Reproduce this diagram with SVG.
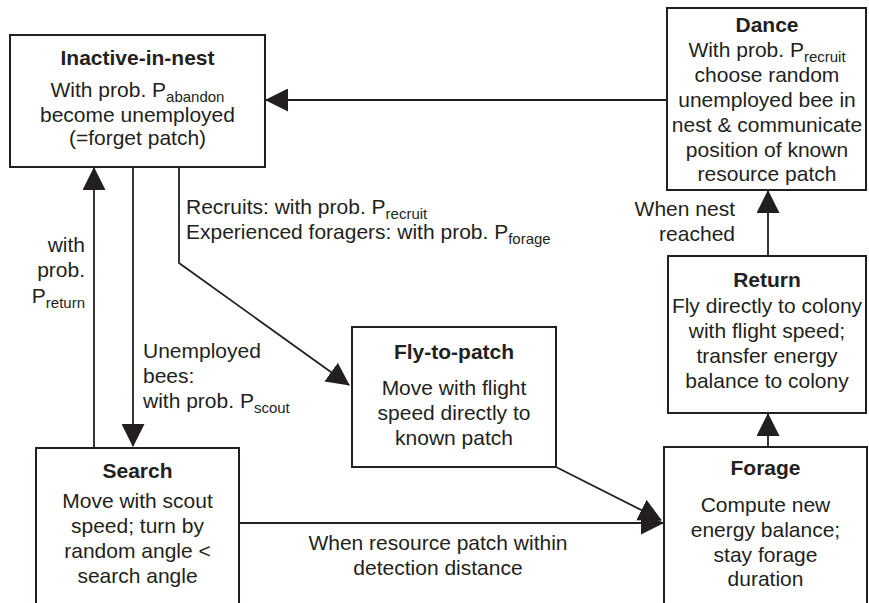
<svg xmlns="http://www.w3.org/2000/svg" width="869" height="603" viewBox="0 0 869 603">
<style>
  .box { fill: #ffffff; stroke: #231f20; stroke-width: 2; }
  .t { font-family: "Liberation Sans", Arial, sans-serif; font-size: 21px; fill: #231f20; }
  .b { font-weight: bold; }
  .c { text-anchor: middle; }
  .r { text-anchor: end; }
  .sub { font-size: 15px; }
  .ln { fill: none; stroke: #231f20; stroke-width: 1.8; }
</style>
<defs>
  <marker id="ah" viewBox="0 0 23 23" markerWidth="23" markerHeight="23" refX="22" refY="11.5" orient="auto" markerUnits="userSpaceOnUse">
    <path d="M0,0 L23,11.5 L0,23 Z" fill="#231f20"/>
  </marker>
</defs>
<rect width="869" height="603" fill="#ffffff"/>

<g id="connectors">
  <line class="ln" x1="667" y1="100" x2="266" y2="100" marker-end="url(#ah)"/>
  <line class="ln" x1="94" y1="448" x2="94" y2="168" marker-end="url(#ah)"/>
  <line class="ln" x1="133" y1="167" x2="133" y2="446" marker-end="url(#ah)"/>
  <polyline class="ln" points="179,167 179,263 349,385" marker-end="url(#ah)"/>
  <line class="ln" x1="556" y1="467" x2="661" y2="520" marker-end="url(#ah)"/>
  <line class="ln" x1="239" y1="523" x2="663" y2="523" marker-end="url(#ah)"/>
  <line class="ln" x1="768" y1="447" x2="768" y2="414" marker-end="url(#ah)"/>
  <line class="ln" x1="768" y1="256" x2="768" y2="191" marker-end="url(#ah)"/>
</g>

<g id="labels">
  <text class="t r" x="85" y="252">with</text>
  <text class="t r" x="85" y="277">prob.</text>
  <text class="t r" x="85" y="303">P<tspan class="sub" dy="5">return</tspan></text>
  <text class="t" x="143" y="358">Unemployed</text>
  <text class="t" x="143" y="383">bees:</text>
  <text class="t" x="143" y="408">with prob. P<tspan class="sub" dy="5">scout</tspan></text>
  <text class="t" x="186" y="214">Recruits: with prob. P<tspan class="sub" dy="5">recruit</tspan></text>
  <text class="t" x="186" y="239">Experienced foragers: with prob. P<tspan class="sub" dy="5">forage</tspan></text>
  <text class="t r" x="735" y="216">When nest</text>
  <text class="t r" x="735" y="241">reached</text>
  <text class="t c" x="438" y="550">When resource patch within</text>
  <text class="t c" x="438" y="575">detection distance</text>
</g>

<g id="inactive">
  <rect class="box" x="10" y="35" width="255" height="132"/>
  <text class="t b c" x="137.5" y="65">Inactive-in-nest</text>
  <text class="t c" x="137.5" y="97">With prob. P<tspan class="sub" dy="5">abandon</tspan></text>
  <text class="t c" x="137.5" y="122">become unemployed</text>
  <text class="t c" x="137.5" y="145">(=forget patch)</text>
</g>

<g id="dance">
  <rect class="box" x="667" y="8" width="199" height="182"/>
  <text class="t b c" x="767" y="32">Dance</text>
  <text class="t c" x="767" y="57">With prob. P<tspan class="sub" dy="5">recruit</tspan></text>
  <text class="t c" x="767" y="82">choose random</text>
  <text class="t c" x="767" y="107">unemployed bee in</text>
  <text class="t c" x="767" y="132">nest &amp; communicate</text>
  <text class="t c" x="767" y="157">position of known</text>
  <text class="t c" x="767" y="181">resource patch</text>
</g>

<g id="return">
  <rect class="box" x="668" y="256" width="198" height="157"/>
  <text class="t b c" x="767" y="287">Return</text>
  <text class="t c" x="767" y="313">Fly directly to colony</text>
  <text class="t c" x="767" y="338">with flight speed;</text>
  <text class="t c" x="767" y="363">transfer energy</text>
  <text class="t c" x="767" y="388">balance to colony</text>
</g>

<g id="fly-to-patch">
  <rect class="box" x="352" y="327" width="204" height="140"/>
  <text class="t b c" x="454" y="359">Fly-to-patch</text>
  <text class="t c" x="454" y="395">Move with flight</text>
  <text class="t c" x="454" y="420">speed directly to</text>
  <text class="t c" x="454" y="445">known patch</text>
</g>

<g id="search">
  <rect class="box" x="36" y="448" width="203" height="170"/>
  <text class="t b c" x="137.5" y="478">Search</text>
  <text class="t c" x="137.5" y="508">Move with scout</text>
  <text class="t c" x="137.5" y="533">speed; turn by</text>
  <text class="t c" x="137.5" y="558">random angle &lt;</text>
  <text class="t c" x="137.5" y="583">search angle</text>
</g>

<g id="forage">
  <rect class="box" x="664" y="447" width="203" height="170"/>
  <text class="t b c" x="765.5" y="475">Forage</text>
  <text class="t c" x="765.5" y="512">Compute new</text>
  <text class="t c" x="765.5" y="537">energy balance;</text>
  <text class="t c" x="765.5" y="562">stay forage</text>
  <text class="t c" x="765.5" y="586">duration</text>
</g>
</svg>
